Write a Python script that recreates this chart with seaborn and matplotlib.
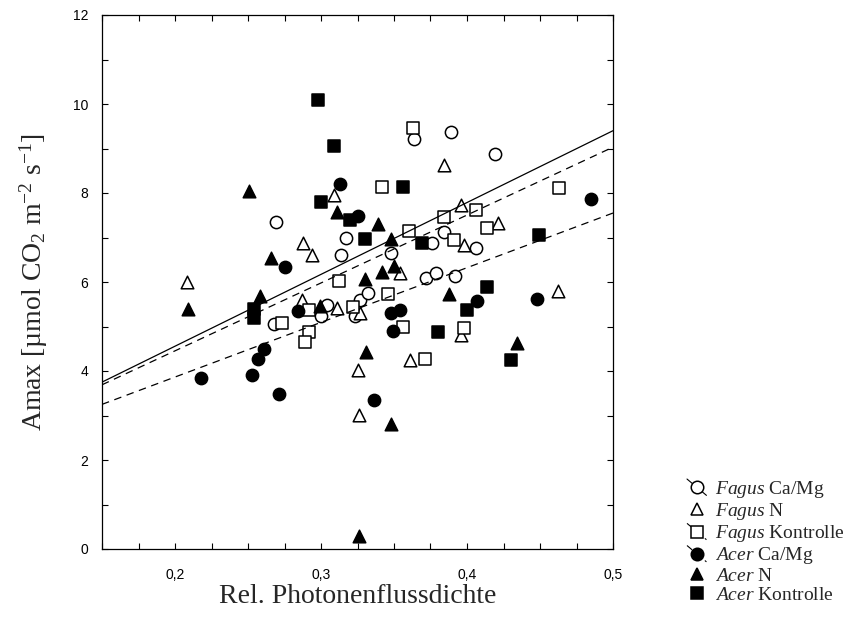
# -*- coding: utf-8 -*-
"""
Amax vs. relative Photonenflussdichte, Fagus / Acer, Behandlungen
"""

import matplotlib
matplotlib.use("Agg")
import pandas as pd
import matplotlib.pyplot as plt
import seaborn as sns
from matplotlib.lines import Line2D
from matplotlib.legend_handler import HandlerLine2D
from matplotlib.ticker import MultipleLocator, FuncFormatter

# Fagus Ca/Mg (offene Kreise)
fagus_camg_x = [0.269, 0.317, 0.314, 0.304, 0.300, 0.327, 0.332, 0.268, 0.323, 0.364,
                0.389, 0.419, 0.348, 0.376, 0.384, 0.406, 0.372, 0.379, 0.392]
fagus_camg_y = [7.35, 7.00, 6.60, 5.48, 5.23, 5.60, 5.76, 5.06, 5.23, 9.22,
                9.36, 8.87, 6.65, 6.88, 7.13, 6.76, 6.09, 6.20, 6.13]

# Fagus N (offene Dreiecke)
fagus_n_x = [0.288, 0.294, 0.208, 0.287, 0.311, 0.327, 0.309, 0.384, 0.396, 0.421,
             0.398, 0.354, 0.396, 0.325, 0.361, 0.326, 0.462]
fagus_n_y = [6.87, 6.61, 5.99, 5.60, 5.42, 5.30, 7.95, 8.64, 7.72, 7.33,
             6.84, 6.20, 4.81, 4.03, 4.24, 3.02, 5.80]

# Fagus Kontrolle (offene Quadrate)
fagus_ko_x = [0.292, 0.312, 0.322, 0.273, 0.292, 0.289, 0.346, 0.356, 0.398, 0.371,
              0.363, 0.342, 0.406, 0.384, 0.414, 0.360, 0.391, 0.463]
fagus_ko_y = [5.37, 6.03, 5.43, 5.08, 4.88, 4.66, 5.72, 4.98, 4.96, 4.27,
              9.46, 8.13, 7.62, 7.46, 7.21, 7.14, 6.94, 8.11]

# Acer Ca/Mg (gefuellte Kreise)
acer_camg_x = [0.275, 0.284, 0.261, 0.257, 0.253, 0.271, 0.218, 0.313, 0.325, 0.348,
               0.354, 0.349, 0.407, 0.336, 0.485, 0.448]
acer_camg_y = [6.33, 5.34, 4.50, 4.27, 3.90, 3.49, 3.84, 8.21, 7.48, 5.30,
               5.37, 4.89, 5.57, 3.34, 7.87, 5.62]

# Acer N (gefuellte Dreiecke)
acer_n_x = [0.251, 0.266, 0.209, 0.258, 0.299, 0.330, 0.331, 0.311, 0.339, 0.348,
            0.350, 0.342, 0.388, 0.434, 0.348, 0.326]
acer_n_y = [8.05, 6.54, 5.40, 5.68, 5.47, 6.07, 4.42, 7.57, 7.30, 6.97,
            6.35, 6.22, 5.74, 4.63, 2.82, 0.29]

# Acer Kontrolle (gefuellte Quadrate)
acer_ko_x = [0.298, 0.309, 0.300, 0.320, 0.356, 0.330, 0.369, 0.254, 0.254, 0.400,
             0.380, 0.414, 0.449, 0.430]
acer_ko_y = [10.1, 9.05, 7.80, 7.40, 8.13, 6.97, 6.88, 5.39, 5.18, 5.36,
             4.87, 5.88, 7.05, 4.24]

fit_x = [0.15, 0.5]
fagus_camg_fit = [3.75, 9.40]
fagus_ko_fit = [3.69, 9.03]
acer_camg_fit = [3.25, 7.55]

groups = ["Fagus Ca/Mg", "Fagus N", "Fagus Kontrolle", "Acer Ca/Mg", "Acer N", "Acer Kontrolle"]
xs = [fagus_camg_x, fagus_n_x, fagus_ko_x, acer_camg_x, acer_n_x, acer_ko_x]
ys = [fagus_camg_y, fagus_n_y, fagus_ko_y, acer_camg_y, acer_n_y, acer_ko_y]

df = pd.concat([pd.DataFrame({"licht": x, "amax": y, "gruppe": g}) for g, x, y in zip(groups, xs, ys)],
               ignore_index=True)

markers = {"Fagus Ca/Mg": "o", "Fagus N": "^", "Fagus Kontrolle": "s",
           "Acer Ca/Mg": "o", "Acer N": "^", "Acer Kontrolle": "s"}
sizes = {"o": 78, "^": 82, "s": 72}
fills = {"Fagus Ca/Mg": "white", "Fagus N": "white", "Fagus Kontrolle": "white",
         "Acer Ca/Mg": "black", "Acer N": "black", "Acer Kontrolle": "black"}
fit_styles = {"Fagus Ca/Mg": (fagus_camg_fit, "-"),
              "Fagus Kontrolle": (fagus_ko_fit, (0, (6, 4.5))),
              "Acer Ca/Mg": (acer_camg_fit, (0, (6, 4.5)))}


class DiagonalHandler(HandlerLine2D):
    """Legend entry like Statistica: marker with a diagonal line through it"""
    def create_artists(self, legend, orig_handle, xdescent, ydescent, width, height, fontsize, trans):
        x0, x1 = -xdescent, -xdescent + width
        y0, y1 = -ydescent + height * 1.1, -ydescent - height * 0.1
        line = Line2D([x0, x1], [y0, y1])
        self.update_prop(line, orig_handle, legend)
        line.set_marker("")
        line.set_transform(trans)
        mark = Line2D([(x0 + x1) / 2], [(y0 + y1) / 2])
        self.update_prop(mark, orig_handle, legend)
        mark.set_linestyle("")
        mark.set_transform(trans)
        return [line, mark]


sns.set_style("ticks")
plt.rcParams["font.family"] = ["Liberation Sans", "DejaVu Sans"]
plt.rcParams["mathtext.fontset"] = "custom"
plt.rcParams["mathtext.rm"] = "Liberation Serif"
plt.rcParams["mathtext.it"] = "Liberation Serif:italic"

fig = plt.figure(figsize=(8.54, 6.27), dpi=100)
ax = fig.add_axes([102 / 854, 1 - 549 / 627, 511 / 854, 534 / 627])

for g in groups:
    sub = df[df["gruppe"] == g]
    m = markers[g]
    sns.scatterplot(data=sub, x="licht", y="amax", marker=m, s=sizes[m], color=fills[g],
                    edgecolor="black", linewidth=1.1, ax=ax, legend=False, zorder=3)

for g, (vals, ls) in fit_styles.items():
    sns.lineplot(x=fit_x, y=vals, ax=ax, color="black", linewidth=0.9, linestyle=ls,
                 legend=False, zorder=4)

ax.set_xlim(0.15, 0.5)
ax.set_ylim(0, 12)
ax.xaxis.set_major_locator(MultipleLocator(0.1))
ax.xaxis.set_minor_locator(MultipleLocator(0.025))
ax.yaxis.set_major_locator(MultipleLocator(2))
ax.yaxis.set_minor_locator(MultipleLocator(1))
ax.xaxis.set_major_formatter(FuncFormatter(lambda v, p: ("%.1f" % v).replace(".", ",")))
ax.yaxis.set_major_formatter(FuncFormatter(lambda v, p: "%d" % v))
ax.tick_params(which="both", direction="in", length=4, width=0.8, top=True, right=True,
               labelsize=10, colors="black")
ax.tick_params(axis="x", pad=14)
ax.tick_params(axis="y", pad=10)
for sp in ax.spines.values():
    sp.set_linewidth(0.9)
    sp.set_color("black")

ax.set_xlabel("Rel. Photonenflussdichte", family="Liberation Serif", fontsize=20)
ax.set_ylabel(r"Amax [µmol CO$_2$ m$^{-2}$ s$^{-1}$]", family="Liberation Serif", fontsize=20)
ax.xaxis.set_label_coords(0.5, -0.066)
ax.yaxis.set_label_coords(-0.102, 0.5)

handles = []
labels = []
for g in groups:
    m = markers[g]
    ls = fit_styles[g][1] if g in fit_styles else "none"
    h = Line2D([], [], marker=m, markersize=9, markerfacecolor=fills[g],
               markeredgecolor="black", markeredgewidth=1.1, color="black", linewidth=0.8,
               linestyle=ls)
    handles.append(h)
    genus, rest = g.split(" ", 1)
    labels.append(r"$\it{" + genus + "}$ " + rest)

leg = fig.legend(handles, labels, loc="upper left", bbox_to_anchor=(687 / 854, 1 - 479 / 627),
                 frameon=False, prop={"family": "Liberation Serif", "size": 14},
                 handlelength=1.0, handletextpad=0.45, labelspacing=0.06, borderpad=0,
                 borderaxespad=0, handler_map={Line2D: DiagonalHandler()})

plt.savefig("out.png", dpi=100)
plt.close()
